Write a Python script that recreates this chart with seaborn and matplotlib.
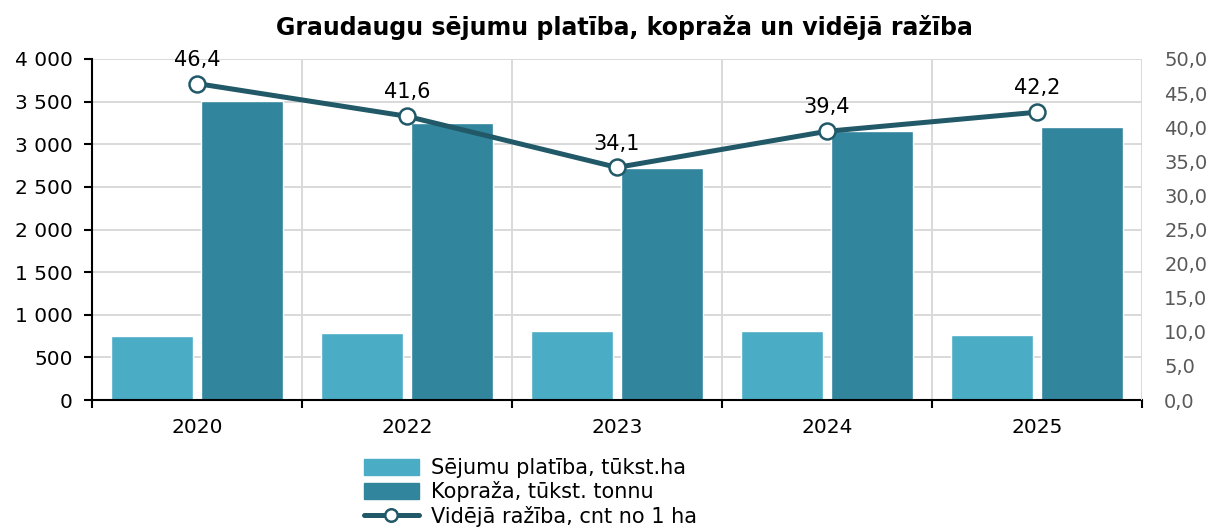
import numpy as np
import pandas as pd
import seaborn as sns
import matplotlib.pyplot as plt
from matplotlib.ticker import FuncFormatter
from matplotlib.patches import Patch
from matplotlib.lines import Line2D

# =========================
# データ
# =========================
years = ['2020', '2022', '2023', '2024', '2025']
platiba = [750, 785, 805, 808, 760]        # Sējumu platība, tūkst.ha
kopraza = [3505, 3248, 2720, 3155, 3200]   # Kopraža, tūkst. tonnu
raziba = [46.4, 41.6, 34.1, 39.4, 42.2]    # Vidējā ražība, cnt no 1 ha

lbl_platiba = 'Sējumu platība, tūkst.ha'
lbl_kopraza = 'Kopraža, tūkst. tonnu'
lbl_raziba = 'Vidējā ražība, cnt no 1 ha'

c_light = '#4BACC6'
c_dark = '#31859C'
c_line = '#215968'

df = pd.DataFrame({'year': years, lbl_platiba: platiba, lbl_kopraza: kopraza})
df_long = df.melt(id_vars='year', var_name='series', value_name='value')

sns.set_style('white')
plt.rcParams['font.family'] = ['DejaVu Sans']
plt.rcParams['text.color'] = 'black'
plt.rcParams['xtick.color'] = 'black'
plt.rcParams['ytick.color'] = 'black'

fig = plt.figure(figsize=(12.12, 5.30), dpi=100)
ax = fig.add_axes([92 / 1212, 1 - 400 / 530, 1050 / 1212, 341 / 530])

sns.barplot(
    data=df_long, x='year', y='value', hue='series',
    palette=[c_light, c_dark], width=0.85, gap=0.08,
    saturation=1, ax=ax, legend=False
)

ax.set_xlim(-0.5, len(years) - 0.5)
ax.set_ylim(0, 4000)
ax.set_yticks(np.arange(0, 4001, 500))
ax.yaxis.set_major_formatter(FuncFormatter(lambda v, p: f'{int(v):,}'.replace(',', ' ')))
ax.set_xlabel('')
ax.set_ylabel('')

# grid
ax.set_axisbelow(True)
ax.grid(axis='y', color='#d9d9d9', linewidth=1.4)
for b in np.arange(0.5, len(years) - 0.5, 1):
    ax.axvline(b, color='#d9d9d9', linewidth=1.4, zorder=0)

for s in ['top', 'right']:
    ax.spines[s].set_visible(False)
ax.spines['left'].set_color('black')
ax.spines['bottom'].set_color('black')
ax.spines['left'].set_linewidth(1.5)
ax.spines['bottom'].set_linewidth(1.5)
ax.tick_params(axis='y', labelsize=14.5, length=6, width=1.5, left=True, colors='black', pad=8)
ax.tick_params(axis='x', labelsize=14.5, length=0, pad=13)
ax.set_xticks(np.arange(-0.5, len(years), 1), minor=True)
ax.tick_params(axis='x', which='minor', bottom=True, length=6, width=1.5)

# ražība
ax2 = ax.twinx()
sns.lineplot(
    x=np.arange(len(years)), y=raziba, ax=ax2, color=c_line, linewidth=3.6,
    marker='o', markersize=11.5, markerfacecolor='white',
    markeredgecolor=c_line, markeredgewidth=1.8
)
ax2.set_ylim(0, 50)
ax2.set_yticks(np.arange(0, 50.1, 5))
ax2.yaxis.set_major_formatter(FuncFormatter(lambda v, p: f'{v:.1f}'.replace('.', ',')))
ax2.tick_params(axis='y', labelsize=14, length=0, colors='#595959', pad=16)
for s in ax2.spines.values():
    s.set_visible(False)
ax2.axvline(len(years) - 0.5, color='#d9d9d9', linewidth=1.4, zorder=0)

for i, v in enumerate(raziba):
    ax2.annotate(f'{v:.1f}'.replace('.', ','), (i, v), xytext=(0, 10),
                 textcoords='offset points', ha='center', va='bottom', fontsize=15)

fig.text(0.515, 1 - 28 / 530, 'Graudaugu sējumu platība, kopraža un vidējā ražība',
         ha='center', va='center', fontsize=17, fontweight='bold')

handles = [
    Patch(color=c_light, label=lbl_platiba),
    Patch(color=c_dark, label=lbl_kopraza),
    Line2D([0], [0], color=c_line, linewidth=3.6, marker='o', markersize=9,
           markerfacecolor='white', markeredgecolor=c_line, markeredgewidth=1.8,
           label=lbl_raziba),
]
fig.legend(handles=handles, loc='upper left', bbox_to_anchor=(356 / 1212, 1 - 450 / 530),
           frameon=False, fontsize=15, handlelength=2.6, handleheight=0.8,
           labelspacing=0.15, handletextpad=0.6, borderaxespad=0)

fig.savefig('out.png', dpi=100)
